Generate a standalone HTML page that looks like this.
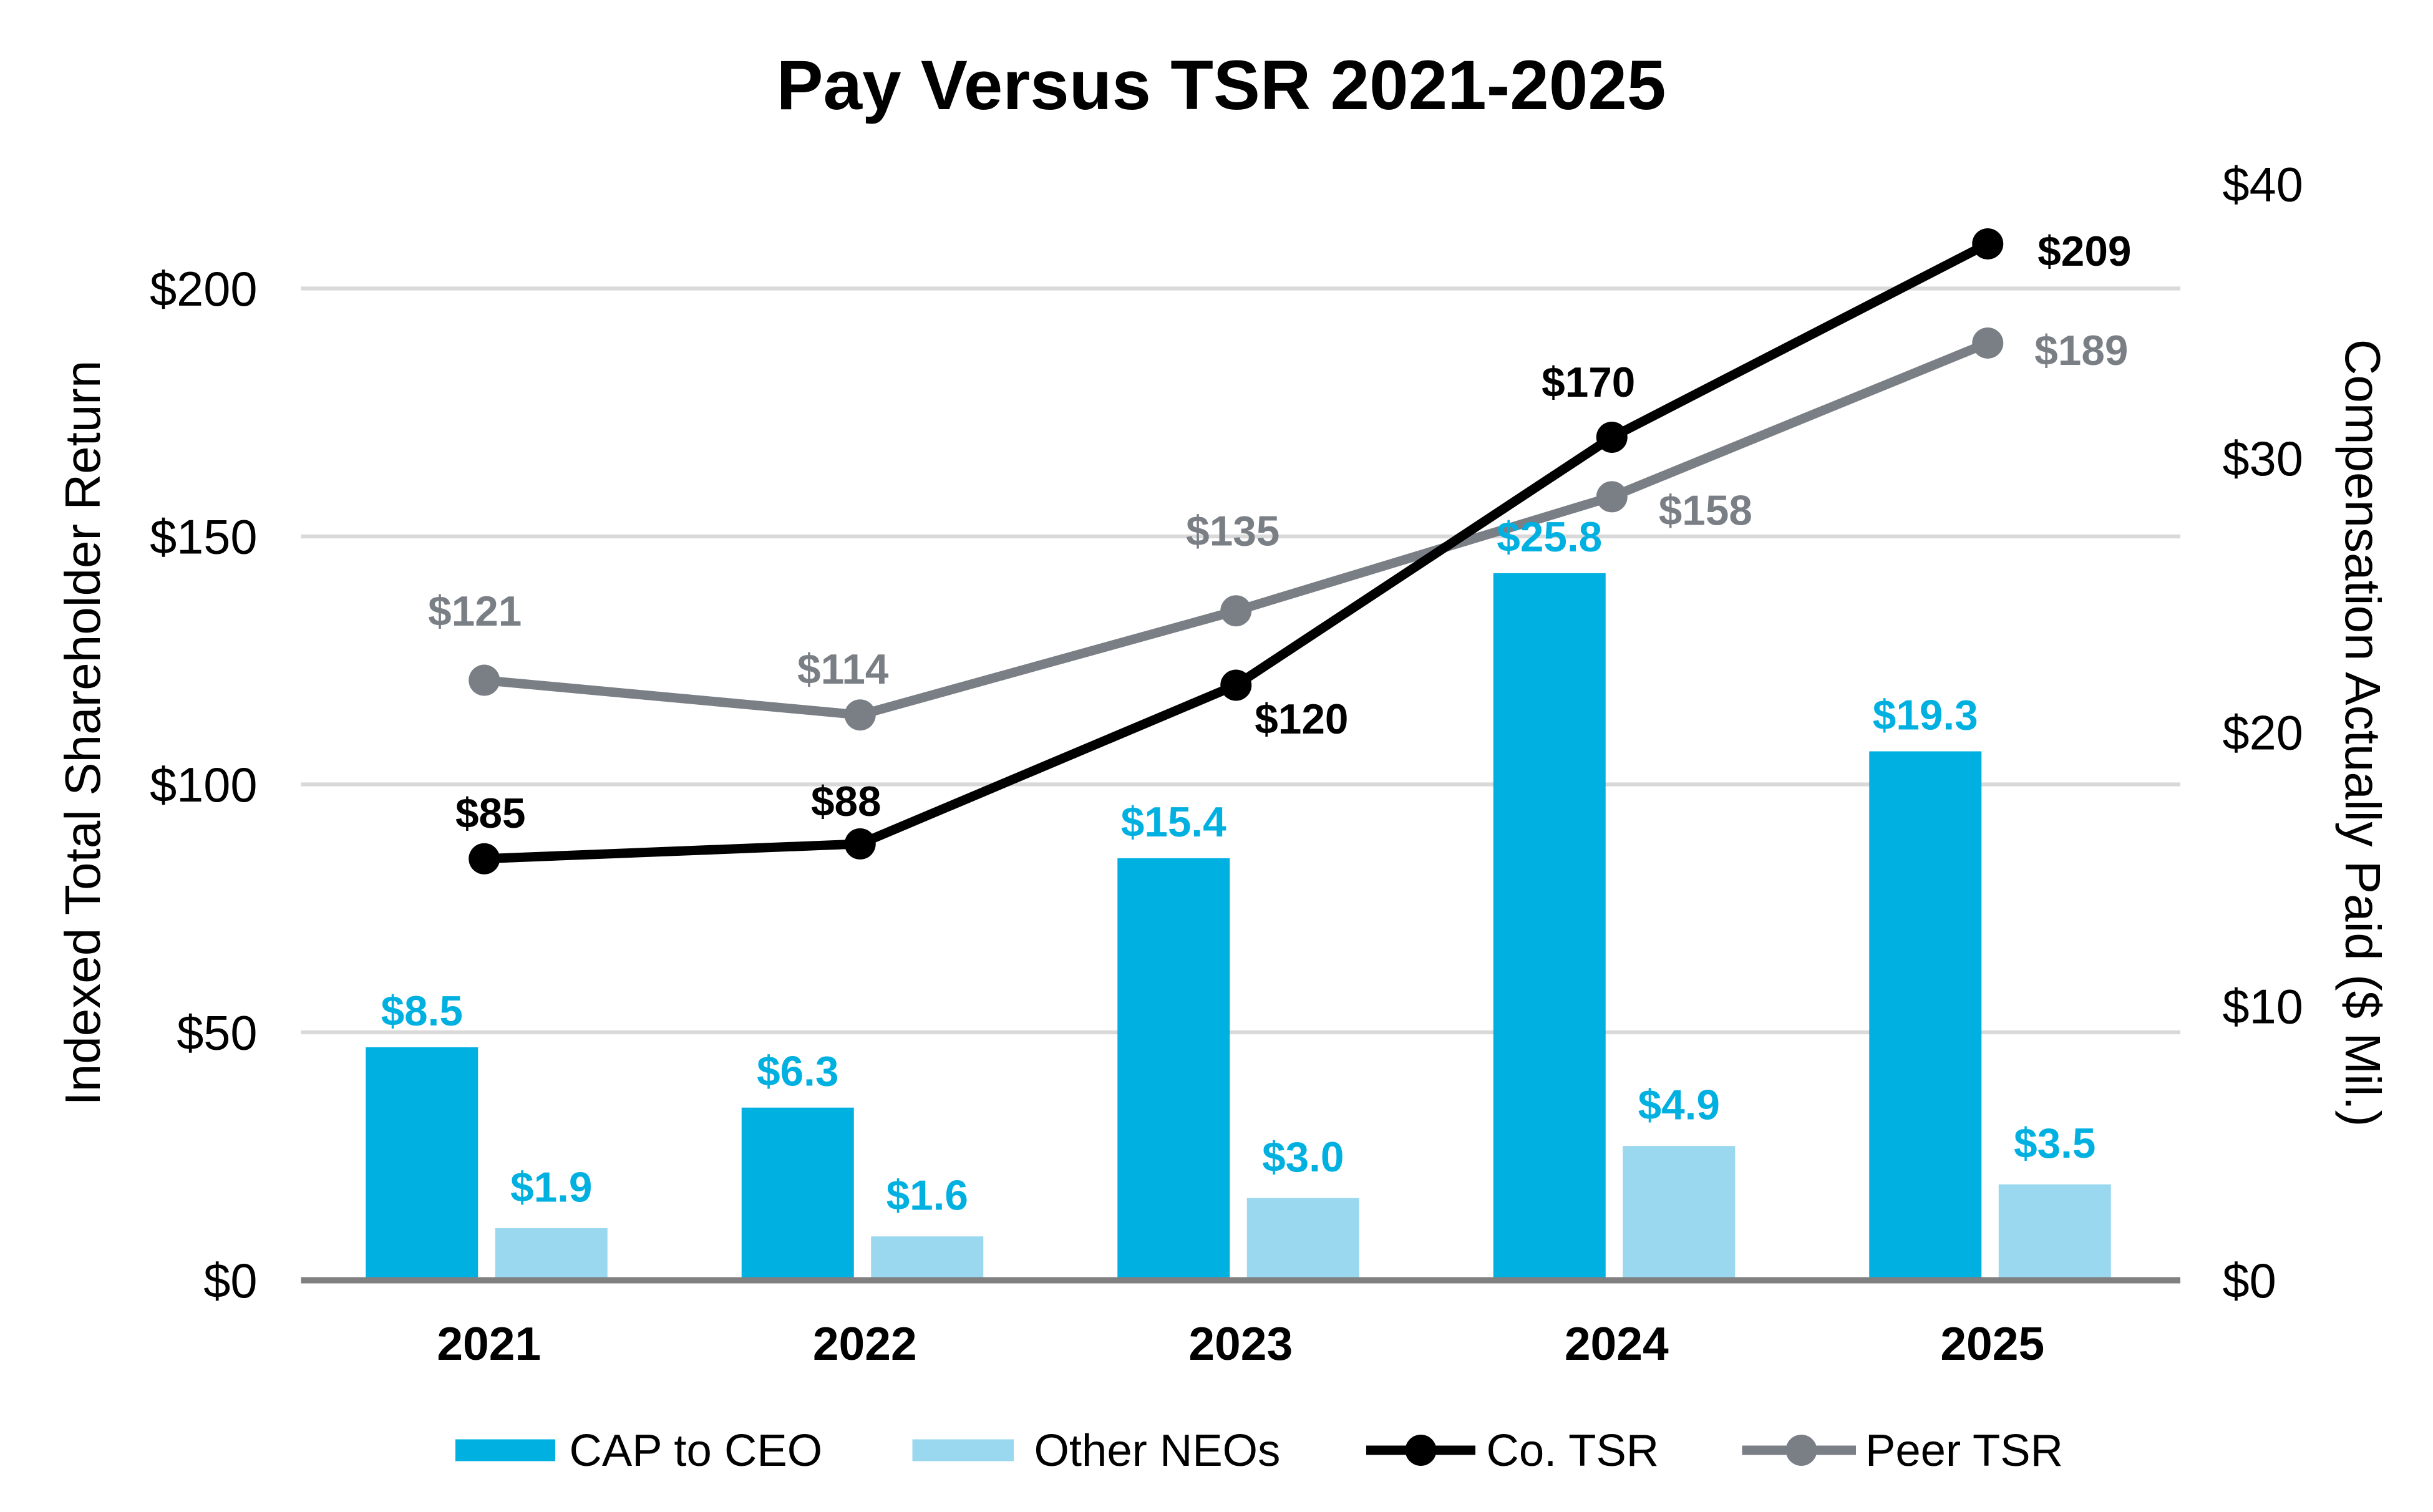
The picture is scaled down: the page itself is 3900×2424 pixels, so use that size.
<!DOCTYPE html>
<html><head><meta charset="utf-8"><style>
html,body{margin:0;padding:0;background:#fff;}
svg{display:block;font-family:"Liberation Sans",Arial,sans-serif;}
</style></head><body>
<svg id="chart" width="3900" height="2424" viewBox="0 0 1560 969.6" xmlns="http://www.w3.org/2000/svg">
<text x="783" y="70" text-anchor="middle" font-size="45" font-weight="bold">Pay Versus TSR 2021-2025</text>
<g id="grid"></g>
<g id="bars"></g>
<g id="lines"></g>
<g id="labels"></g>
<text transform="translate(64,470) rotate(-90)" text-anchor="middle" font-size="32">Indexed Total Shareholder Return</text>
<text transform="translate(1504,470) rotate(90)" text-anchor="middle" font-size="32">Compensation Actually Paid ($ Mil.)</text>
<g font-size="29">
<rect x="292" y="923" width="64" height="14" fill="#00B0E0"/>
<text x="365" y="940">CAP to CEO</text>
<rect x="585" y="923" width="65" height="14" fill="#99D8EF"/>
<text x="663" y="940">Other NEOs</text>
<line x1="876" y1="930" x2="946" y2="930" stroke="#000" stroke-width="6"/>
<circle cx="911" cy="930" r="10" fill="#000"/>
<text x="953" y="940">Co. TSR</text>
<line x1="1117" y1="930" x2="1190" y2="930" stroke="#7A7F86" stroke-width="6"/>
<circle cx="1155" cy="930" r="10" fill="#7A7F86"/>
<text x="1196" y="940">Peer TSR</text>
</g>
</svg>
<script>
const years = ["2021","2022","2023","2024","2025"];
const capCeo = [8.5, 6.3, 15.4, 25.8, 19.3];
const otherNeos = [1.9, 1.6, 3.0, 4.9, 3.5];
const coTsr = [85, 88, 120, 170, 209];
const peerTsr = [121, 114, 135, 158, 189];
const leftTicks = [0, 50, 100, 150, 200];
const rightTicks = [0, 10, 20, 30, 40];

const NS = "http://www.w3.org/2000/svg";
const X0 = 193, X1 = 1398, Y0 = 821;
const band = (X1 - X0) / years.length;
const xc = i => X0 + band * (i + 0.5);
const yL = v => Y0 - v * (636 / 200);
const yR = v => Y0 - v * (703 / 40);
function mk(tag, attrs, parent){const e=document.createElementNS(NS,tag);for(const k in attrs)e.setAttribute(k,attrs[k]);parent.appendChild(e);return e;}
const grid=document.getElementById('grid'),bars=document.getElementById('bars'),lines=document.getElementById('lines'),labels=document.getElementById('labels');

leftTicks.forEach(t=>{
  if(t>0){const g=mk('line',{x1:X0,x2:X1,y1:yL(t),y2:yL(t),stroke:'#D9D9D9','stroke-width':2.5},grid);
  
  }
  const tx=mk('text',{x:165,y:yL(t)+11,'text-anchor':'end','font-size':31},grid);tx.textContent='$'+t;
  
  
});
rightTicks.forEach(t=>{
  const tx=mk('text',{x:1425,y:yR(t)+11,'font-size':31},grid);tx.textContent='$'+t;
  
  
});
years.forEach((y,i)=>{
  const tx=mk('text',{x:xc(i),y:872,'text-anchor':'middle','font-size':30,'font-weight':'bold'},grid);tx.textContent=y;
  
  
});

years.forEach((y,i)=>{
  const b=mk('rect',{x:xc(i)-79,y:yR(capCeo[i]),width:72,height:Y0-yR(capCeo[i]),fill:'#00B0E0'},bars);
  
  
  const b2=mk('rect',{x:xc(i)+4,y:yR(otherNeos[i]),width:72,height:Y0-yR(otherNeos[i]),fill:'#99D8EF'},bars);
  
  
  const l1=mk('text',{x:xc(i)-43,y:yR(capCeo[i])-14,'text-anchor':'middle','font-size':27,'font-weight':'bold',fill:'#00B0E0'},labels);l1.textContent='$'+capCeo[i].toFixed(1);
  
  
  const l2=mk('text',{x:xc(i)+40,y:yR(otherNeos[i])-17,'text-anchor':'middle','font-size':27,'font-weight':'bold',fill:'#00B0E0'},labels);l2.textContent='$'+otherNeos[i].toFixed(1);
  
  
});
const ax=mk('line',{x1:X0,x2:X1,y1:Y0,y2:Y0,stroke:'#808080','stroke-width':4},bars);



function series(vals,color,name,offs){
  const pts=vals.map((v,i)=>(xc(i)-3)+','+yL(v)).join(' ');
  const pl=mk('polyline',{points:pts,fill:'none',stroke:color,'stroke-width':6,'stroke-linejoin':'round'},lines);
  
  
  vals.forEach((v,i)=>{
    const c=mk('circle',{cx:xc(i)-3,cy:yL(v),r:10,fill:color},lines);
    
    
    const o=offs[i];
    const t=mk('text',{x:xc(i)-3+o[0],y:yL(v)+o[1],'text-anchor':o[2],'font-size':27,'font-weight':'bold',fill:color},labels);
    t.textContent='$'+v;
    
    
  });
}
series(peerTsr,'#7A7F86','peer-tsr',[[-6,-35,'middle'],[-11,-20,'middle'],[-2,-42,'middle'],[30,18,'start'],[30,14,'start']]);
series(coTsr,'#000000','co-tsr',[[4,-20,'middle'],[-9,-18,'middle'],[12,31,'start'],[-15,-26,'middle'],[32,14,'start']]);
</script>
</body></html>
